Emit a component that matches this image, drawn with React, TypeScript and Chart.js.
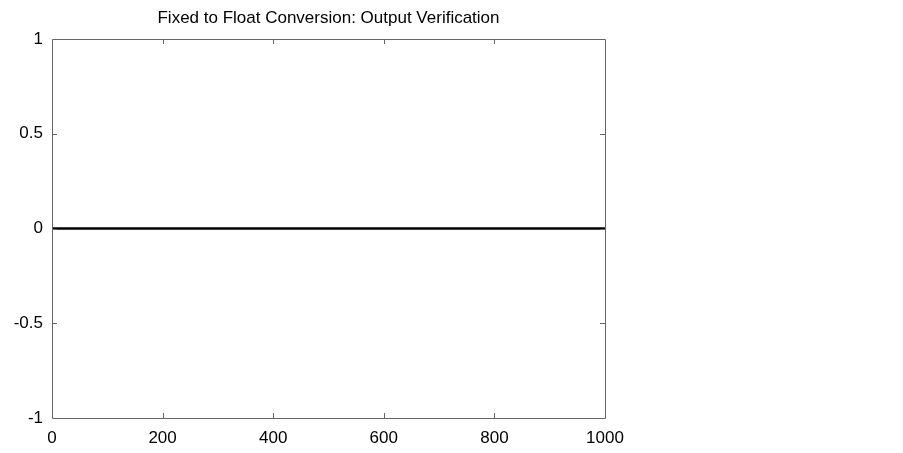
import React, { useEffect, useRef } from "react";
import { Chart, registerables } from "chart.js";

Chart.register(...registerables);

const sampleIndex: number[] = [0, 100, 200, 300, 400, 500, 600, 700, 800, 900, 1000];
const outputValues: number[] = [0, 0, 0, 0, 0, 0, 0, 0, 0, 0, 0];
const xTicks: number[] = [0, 200, 400, 600, 800, 1000];
const yTicks: number[] = [-1, -0.5, 0, 0.5, 1];
const titleText = "Fixed to Float Conversion: Output Verification";

const FONT = "'Liberation Sans', Arial, sans-serif";

const framePlugin = {
  id: "frame",
  afterDraw(chart: any) {
    const { ctx, chartArea } = chart;
    const { left, right, top, bottom } = chartArea;
    const xs = chart.scales.x;
    const ys = chart.scales.y;
    ctx.save();
    ctx.strokeStyle = "#666666";
    ctx.lineWidth = 1;
    ctx.beginPath();
    ctx.rect(Math.round(left) + 0.5, Math.round(top) + 0.5, Math.round(right - left), Math.round(bottom - top));
    ctx.stroke();
    const tl = 5;
    ctx.beginPath();
    xTicks.forEach((v) => {
      if (v === xs.min || v === xs.max) return;
      const px = Math.round(xs.getPixelForValue(v)) + 0.5;
      ctx.moveTo(px, bottom);
      ctx.lineTo(px, bottom - tl);
      ctx.moveTo(px, top);
      ctx.lineTo(px, top + tl);
    });
    yTicks.forEach((v) => {
      if (v === ys.min || v === ys.max) return;
      const py = Math.round(ys.getPixelForValue(v)) + 0.5;
      ctx.moveTo(left, py);
      ctx.lineTo(left + tl, py);
      ctx.moveTo(right, py);
      ctx.lineTo(right - tl, py);
    });
    ctx.stroke();
    ctx.restore();
  },
};

export default function App() {
  const ref = useRef<HTMLCanvasElement | null>(null);
  useEffect(() => {
    if (!ref.current) return;
    const chart = new Chart(ref.current, {
      type: "line",
      data: {
        labels: sampleIndex,
        datasets: [
          {
            data: sampleIndex.map((x, i) => ({ x, y: outputValues[i] })),
            borderColor: "#000000",
            borderWidth: 2.5,
            pointRadius: 0,
            fill: false,
            tension: 0,
          },
        ],
      },
      options: {
        animation: false,
        responsive: false,
        maintainAspectRatio: false,
        layout: { padding: { left: 0, right: 298, top: 0, bottom: 0 } },
        plugins: {
          legend: { display: false },
          tooltip: { enabled: false },
          title: {
            display: true,
            text: titleText,
            fullSize: false,
            color: "#000000",
            font: { family: FONT, size: 17, weight: "normal", lineHeight: 1.2 },
            padding: { top: 8, bottom: 10.6 },
          },
        },
        scales: {
          x: {
            type: "linear",
            min: 0,
            max: 1000,
            afterFit: (s: any) => {
              s.height = 35;
            },
            afterBuildTicks: (s: any) => {
              s.ticks = xTicks.map((v) => ({ value: v }));
            },
            grid: { display: false, drawTicks: false },
            border: { display: false },
            ticks: {
              color: "#000000",
              font: { family: FONT, size: 17 },
              padding: 10,
              maxRotation: 0,
              autoSkip: false,
              callback: (v: any) => String(v),
            },
          },
          y: {
            type: "linear",
            min: -1,
            max: 1,
            afterFit: (s: any) => {
              s.width = 52;
            },
            afterBuildTicks: (s: any) => {
              s.ticks = yTicks.map((v) => ({ value: v }));
            },
            grid: { display: false, drawTicks: false },
            border: { display: false },
            ticks: {
              color: "#000000",
              font: { family: FONT, size: 17 },
              padding: 9,
              autoSkip: false,
              callback: (v: any) => String(v),
            },
          },
        },
      },
      plugins: [framePlugin],
    });
    return () => chart.destroy();
  }, []);
  return (
    <div style={{ position: "absolute", left: 0, top: 0, width: 903, height: 453, background: "#fff" }}>
      <canvas ref={ref} width={903} height={453} style={{ display: "block" }} />
    </div>
  );
}
